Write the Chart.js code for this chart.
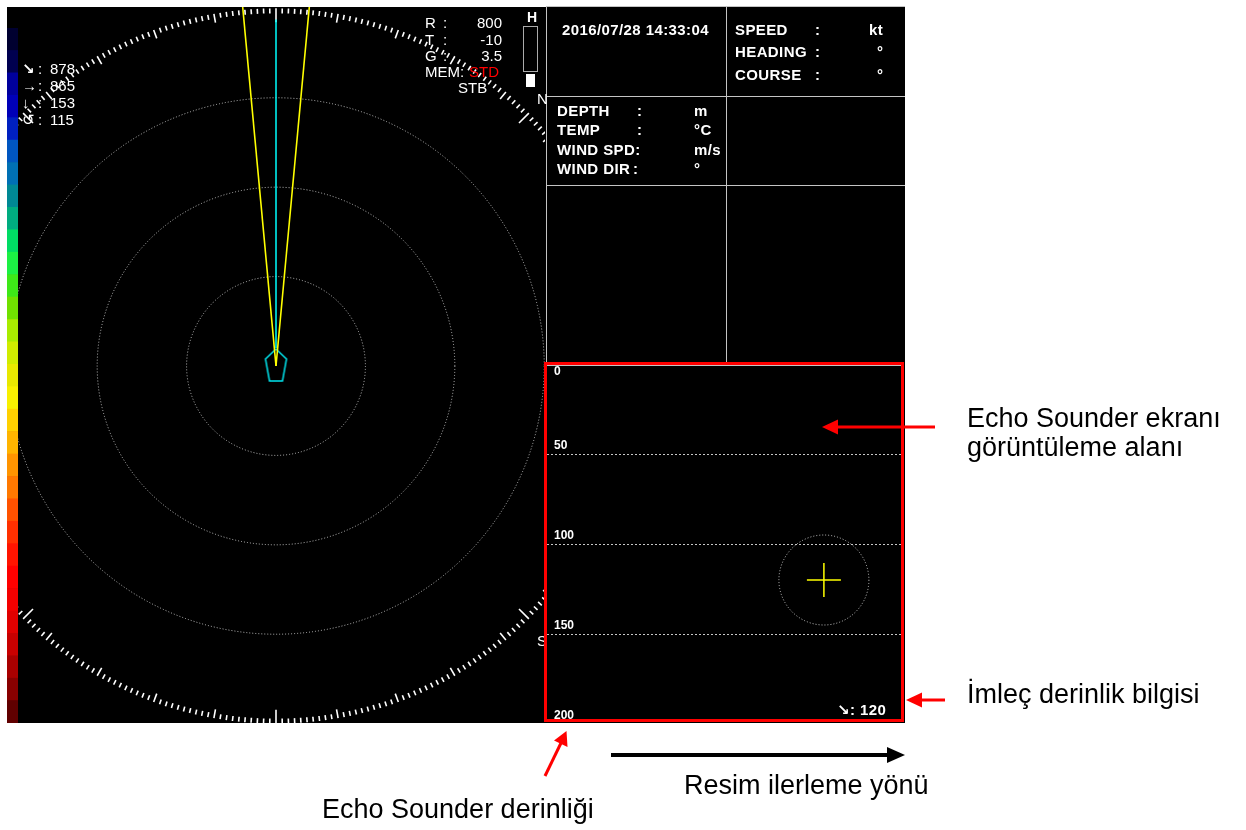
<!DOCTYPE html>
<html>
<head>
<meta charset="utf-8">
<title>Echo Sounder</title>
<script src="https://cdn.jsdelivr.net/npm/chart.js@4.4.1/dist/chart.umd.min.js"></script>
<style>
  html, body { margin: 0; padding: 0; background: #fff; }
  #page { position: relative; width: 1246px; height: 830px; overflow: hidden; }
  #screen { position: absolute; left: 7px; top: 7px; width: 898px; height: 716px; background: #000; }
  #scaleBar { position: absolute; left: 7px; top: 28px; }
  #sonarWrap { position: absolute; left: 18px; top: 7px; width: 527px; height: 716px; overflow: hidden; }
  #sonar { position: absolute; left: -122px; top: -21px; }
  #echo { position: absolute; left: 547px; top: 364px; }
  #overlay { position: absolute; left: 0; top: 0; }
  #overlay text { font-family: "Liberation Sans", Arial, "DejaVu Sans", sans-serif; }
</style>
</head>
<body>
<div id="page">
  <div id="screen"></div>
  <canvas id="scaleBar" width="11" height="695"></canvas>
  <div id="sonarWrap"><canvas id="sonar" width="760" height="760"></canvas></div>
  <canvas id="echo" width="355" height="360"></canvas>

  <svg id="overlay" width="1246" height="830">
    <!-- info panel frame -->
    <path d="M546.5 7 V363 M726.5 7 V363 M546 6.5 H905 M546 96.5 H905 M546 185.5 H905 M547 365.5 H902"
          stroke="#c4c4c4" stroke-width="1" fill="none"/>

    <!-- sonar settings -->
    <g fill="#fff" font-size="15" id="sonarText">
      <text x="425" y="28">R</text><text x="443" y="28">:</text><text x="502" y="28" text-anchor="end">800</text>
      <text x="425" y="45">T</text><text x="443" y="45">:</text><text x="502" y="45" text-anchor="end">-10</text>
      <text x="425" y="61">G</text><text x="443" y="61">:</text><text x="502" y="61" text-anchor="end">3.5</text>
      <text x="425" y="77">MEM:</text><text x="469" y="77" fill="#ff0000">STD</text>
      <text x="458" y="93">STB</text>
      <text x="537" y="104">N</text>
      <text x="537" y="646">S</text>
    </g>
    <text x="527" y="22" fill="#fff" font-size="14" font-weight="bold">H</text>
    <rect x="523.5" y="26.5" width="14" height="45" stroke="#aaa" fill="none"/>
    <rect x="526" y="74" width="9" height="13" fill="#fff"/>

    <!-- info panel texts -->
    <g fill="#fff" font-size="15" font-weight="bold" letter-spacing="0.4">
      <text x="562" y="35">2016/07/28 14:33:04</text>
      <text x="735" y="35">SPEED</text><text x="815" y="35">:</text><text x="869" y="35">kt</text>
      <text x="735" y="57">HEADING</text><text x="815" y="57">:</text><text x="877" y="57">°</text>
      <text x="735" y="80">COURSE</text><text x="815" y="80">:</text><text x="877" y="80">°</text>
      <text x="557" y="116">DEPTH</text><text x="637" y="116">:</text><text x="694" y="116">m</text>
      <text x="557" y="135">TEMP</text><text x="637" y="135">:</text><text x="694" y="135">°C</text>
      <text x="557" y="155">WIND SPD:</text><text x="694" y="155">m/s</text>
      <text x="557" y="174">WIND DIR</text><text x="633" y="174">:</text><text x="694" y="174">°</text>
      <text x="837" y="715" id="cursorText"></text>
    </g>

    <!-- annotations -->
    <rect x="545.5" y="363.5" width="357" height="357" stroke="#ff0000" stroke-width="3" fill="none"/>
    <line x1="935" y1="427" x2="834" y2="427" stroke="#ff0000" stroke-width="3"/>
    <polygon points="822,427 838,419.5 838,434.5" fill="#ff0000"/>
    <line x1="945" y1="700" x2="918" y2="700" stroke="#ff0000" stroke-width="3"/>
    <polygon points="906,700 922,692.5 922,707.5" fill="#ff0000"/>
    <line x1="545" y1="776" x2="561" y2="743" stroke="#ff0000" stroke-width="3"/>
    <polygon points="566.5,731 567.5,747 554,740.5" fill="#ff0000"/>
    <line x1="611" y1="755" x2="890" y2="755" stroke="#000" stroke-width="4"/>
    <polygon points="905,755 887,747 887,763" fill="#000"/>

    <g fill="#000" font-size="27">
      <text x="967" y="427">Echo Sounder ekranı</text>
      <text x="967" y="456">görüntüleme alanı</text>
      <text x="967" y="703">İmleç derinlik bilgisi</text>
      <text x="684" y="794">Resim ilerleme yönü</text>
      <text x="322" y="818">Echo Sounder derinliği</text>
    </g>
  </svg>
</div>

<script>
// echo level colour scale, top (weak) to bottom (strong)
const scaleColors = [
  "#000030", "#000050", "#00009c", "#0000b8", "#0020c0", "#0056c0", "#0070b4", "#008894",
  "#00ac80", "#00dc64", "#1cf044", "#3ee818", "#70e000", "#a8ec00", "#d0ec00", "#e8e800",
  "#f8f000", "#ffd000", "#ffb400", "#ff9400", "#ff7800", "#ff5200", "#ff3000", "#ff1400",
  "#ff0000", "#f40000", "#e00000", "#c80000", "#a80000", "#880000", "#600000"
];

// sonar
const rangeMax = 800;
const ringRanges = [200, 400, 600];
const beamBearings = [-5.3, 5.3];
const beamLength = 820;
const headingBearing = 0;
const headingSpan = [40, 775];

// target readouts (↘ → ↓ ↺)
const statSymbols = ["↘", "→", "↓", "↺"];
const statValues = [878, 865, 153, 115];

// echo sounder
const depthTicks = [0, 50, 100, 150, 200];
const echoPings = 100;
const cursorPing = 78;
const cursorDepth = 120;

const toXY = (brg, r) => ({
  x: r * Math.sin(brg * Math.PI / 180),
  y: r * Math.cos(brg * Math.PI / 180)
});

// readout texts
const svgNS = "http://www.w3.org/2000/svg";
const sonarText = document.getElementById("sonarText");
statValues.forEach((v, i) => {
  const y = 74 + i * 17;
  [[22, statSymbols[i]], [38, ":"], [50, String(v)]].forEach(([x, s]) => {
    const t = document.createElementNS(svgNS, "text");
    t.setAttribute("x", x);
    t.setAttribute("y", y);
    if (i === 0 && x === 22) t.setAttribute("font-weight", "bold");
    t.textContent = s;
    sonarText.appendChild(t);
  });
});
document.getElementById("cursorText").textContent = "↘: " + cursorDepth;

// ship mark
const shipMark = document.createElement("canvas");
shipMark.width = 25;
shipMark.height = 36;
(() => {
  const c = shipMark.getContext("2d");
  c.strokeStyle = "#00e5ee";
  c.lineWidth = 1.5;
  c.beginPath();
  c.moveTo(12.5, 1);
  c.lineTo(23, 11);
  c.lineTo(19, 33);
  c.lineTo(6, 33);
  c.lineTo(2, 11);
  c.closePath();
  c.stroke();
})();

const sonarDial = {
  id: "sonarDial",
  beforeDatasetsDraw(chart) {
    const {ctx, scales: {x, y}} = chart;
    const cx = x.getPixelForValue(0);
    const cy = y.getPixelForValue(0);
    const px = r => x.getPixelForValue(r) - cx;
    ctx.save();
    ctx.strokeStyle = "#bdbdbd";
    ctx.lineWidth = 1;
    ctx.setLineDash([1, 2]);
    ringRanges.forEach(r => {
      ctx.beginPath();
      ctx.arc(cx, cy, px(r), 0, Math.PI * 2);
      ctx.stroke();
    });
    ctx.setLineDash([]);
    const rO = px(rangeMax);
    ctx.strokeStyle = "#fff";
    ctx.lineWidth = 1.6;
    for (let d = 0; d < 360; d++) {
      const len = d % 45 === 0 ? 14 : d % 10 === 0 ? 9 : 5;
      const a = d * Math.PI / 180;
      const s = Math.sin(a), c = Math.cos(a);
      ctx.beginPath();
      ctx.moveTo(cx + rO * s, cy - rO * c);
      ctx.lineTo(cx + (rO - len) * s, cy - (rO - len) * c);
      ctx.stroke();
    }
    ctx.restore();
  }
};

new Chart(document.getElementById("sonar"), {
  type: "scatter",
  data: {
    datasets: [
      ...beamBearings.map(b => ({
        type: "line",
        data: [toXY(b, 0), toXY(b, beamLength)],
        borderColor: "#ffff00",
        borderWidth: 1.6,
        pointRadius: 0
      })),
      {
        type: "line",
        data: [toXY(headingBearing, headingSpan[0]), toXY(headingBearing, headingSpan[1])],
        borderColor: "#00ffff",
        borderWidth: 1.5,
        pointRadius: 0
      },
      {
        data: [{x: 0, y: 0}],
        pointStyle: shipMark,
        pointRadius: 12
      }
    ]
  },
  options: {
    responsive: false,
    animation: false,
    devicePixelRatio: 1,
    events: [],
    layout: {padding: 0, autoPadding: false},
    scales: {
      x: {type: "linear", min: -850, max: 850, display: false},
      y: {type: "linear", min: -850, max: 850, display: false}
    },
    plugins: {legend: {display: false}, tooltip: {enabled: false}}
  },
  plugins: [sonarDial]
});

const echoLabels = {
  id: "echoLabels",
  afterDraw(chart) {
    const {ctx, chartArea: a, scales: {y}} = chart;
    ctx.save();
    ctx.fillStyle = "#fff";
    ctx.font = "bold 12px 'Liberation Sans', Arial, sans-serif";
    ctx.textBaseline = "middle";
    depthTicks.forEach(v => {
      const py = Math.min(Math.max(y.getPixelForValue(v) - 8, a.top + 8), a.bottom - 8);
      ctx.fillText(String(v), a.left + 7, py);
    });
    const pt = chart.getDatasetMeta(0).data[0];
    ctx.strokeStyle = "#c8c8c8";
    ctx.lineWidth = 1;
    ctx.setLineDash([1, 2]);
    ctx.beginPath();
    ctx.arc(pt.x, pt.y, 45, 0, Math.PI * 2);
    ctx.stroke();
    ctx.restore();
  }
};

new Chart(document.getElementById("echo"), {
  type: "scatter",
  data: {
    datasets: [{
      data: [{x: cursorPing, y: cursorDepth}],
      pointStyle: "cross",
      pointRadius: 17,
      borderColor: "#ffff00",
      borderWidth: 1.5
    }]
  },
  options: {
    responsive: false,
    animation: false,
    devicePixelRatio: 1,
    events: [],
    layout: {padding: 0, autoPadding: false},
    scales: {
      x: {type: "linear", min: 0, max: echoPings, display: false},
      y: {
        type: "linear",
        reverse: true,
        min: depthTicks[0],
        max: depthTicks[depthTicks.length - 1],
        afterBuildTicks(s) { s.ticks = depthTicks.map(v => ({value: v})); },
        afterFit(s) { s.width = 0; },
        ticks: {display: false},
        grid: {
          drawTicks: false,
          lineWidth: 1,
          color: c => (c.tick && (c.tick.value === depthTicks[0] || c.tick.value === depthTicks[depthTicks.length - 1]))
            ? "rgba(0,0,0,0)" : "#c8c8c8"
        },
        border: {display: false, dash: [2, 2]}
      }
    },
    plugins: {legend: {display: false}, tooltip: {enabled: false}}
  },
  plugins: [echoLabels]
});

new Chart(document.getElementById("scaleBar"), {
  type: "bar",
  data: {
    labels: [""],
    datasets: scaleColors.slice().reverse().map(c => ({
      data: [1],
      backgroundColor: c,
      borderWidth: 0,
      barPercentage: 1,
      categoryPercentage: 1
    }))
  },
  options: {
    responsive: false,
    animation: false,
    devicePixelRatio: 1,
    events: [],
    layout: {padding: 0, autoPadding: false},
    scales: {
      x: {stacked: true, display: false},
      y: {stacked: true, display: false, min: 0, max: scaleColors.length}
    },
    plugins: {legend: {display: false}, tooltip: {enabled: false}}
  }
});
</script>
</body>
</html>
